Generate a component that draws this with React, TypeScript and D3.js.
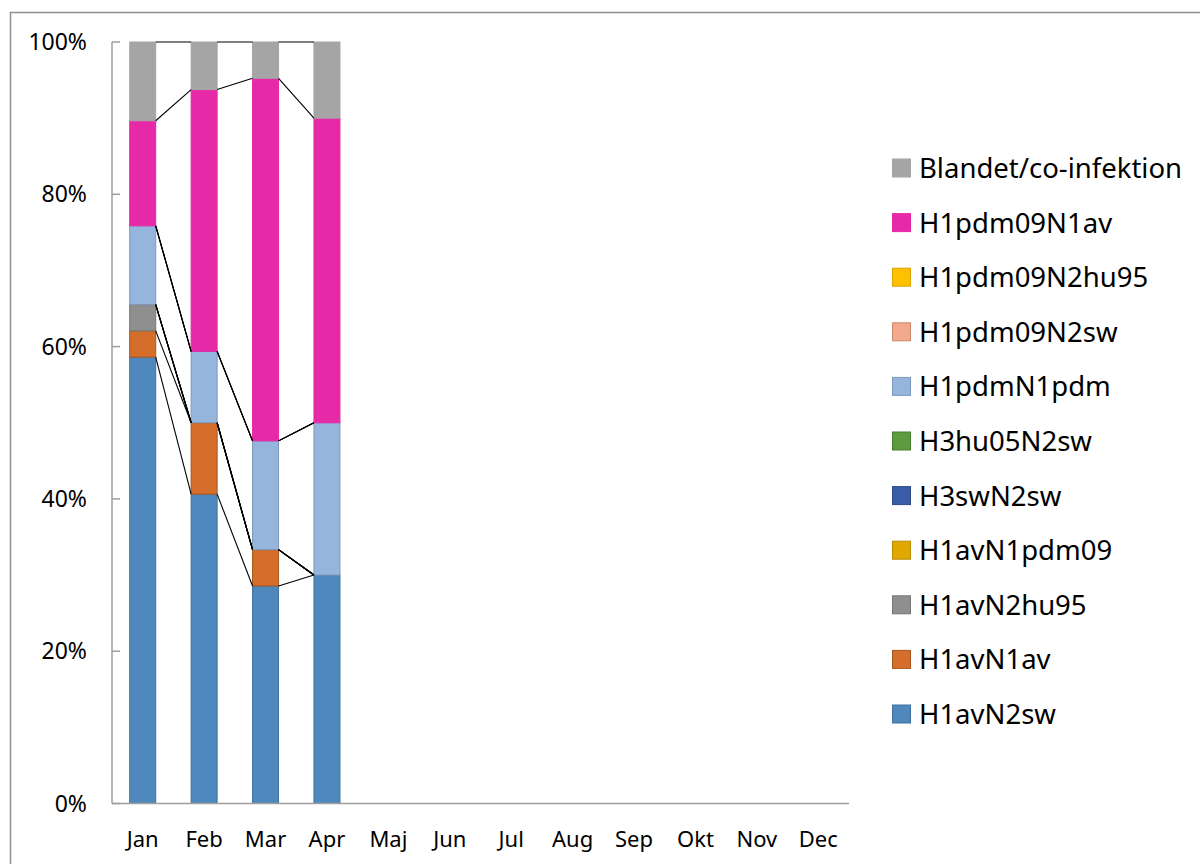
// 100% stacked column chart of influenza subtypes per month, with series lines
import { useEffect, useRef } from 'react';
import * as d3 from 'd3';

// Months on the x-axis
const months = ['Jan', 'Feb', 'Mar', 'Apr', 'Maj', 'Jun', 'Jul', 'Aug', 'Sep', 'Okt', 'Nov', 'Dec'];
// Months that have data
const dataMonths = ['Jan', 'Feb', 'Mar', 'Apr'];

// Series, bottom of the stack first
const seriesNames = [
  'H1avN2sw', 'H1avN1av', 'H1avN2hu95', 'H1avN1pdm09', 'H3swN2sw', 'H3hu05N2sw',
  'H1pdmN1pdm', 'H1pdm09N2sw', 'H1pdm09N2hu95', 'H1pdm09N1av', 'Blandet/co-infektion',
];

// Counts per series for Jan..Apr
const H1avN2sw = [17, 13, 6, 3];
const H1avN1av = [1, 3, 1, 0];
const H1avN2hu95 = [1, 0, 0, 0];
const H1avN1pdm09 = [0, 0, 0, 0];
const H3swN2sw = [0, 0, 0, 0];
const H3hu05N2sw = [0, 0, 0, 0];
const H1pdmN1pdm = [3, 3, 3, 2];
const H1pdm09N2sw = [0, 0, 0, 0];
const H1pdm09N2hu95 = [0, 0, 0, 0];
const H1pdm09N1av = [4, 11, 10, 4];
const Blandet = [3, 2, 1, 1];

const seriesValues = [
  H1avN2sw, H1avN1av, H1avN2hu95, H1avN1pdm09, H3swN2sw, H3hu05N2sw,
  H1pdmN1pdm, H1pdm09N2sw, H1pdm09N2hu95, H1pdm09N1av, Blandet,
];

const fills = ['#4F88BD', '#D46E2A', '#8F8F8F', '#E0A800', '#3A5DA8', '#5E9B3E',
  '#95B5DD', '#F2A98C', '#FFC000', '#E629A7', '#A5A5A5'];
const strokes = ['#41709C', '#A8561F', '#767676', '#B88A00', '#2E4A86', '#4A7C30',
  '#7D98BA', '#C98870', '#D9A300', '#E629A7', '#A5A5A5'];

const yTicks = [0, 0.2, 0.4, 0.6, 0.8, 1];

const App = () => {
  const svgRef = useRef<SVGSVGElement | null>(null);

  useEffect(() => {
    const width = 1200;
    const height = 864;
    const left = 112;
    const right = 849;
    const top = 42;
    const bottom = 803.5;
    const font = "'Noto Sans', sans-serif";

    const svg = d3.select(svgRef.current);
    svg.selectAll('*').remove();

    // Rows for the stack
    const rows = dataMonths.map((m, i) => {
      const r: Record<string, number | string> = { month: m };
      seriesNames.forEach((s, j) => { r[s] = seriesValues[j][i]; });
      return r;
    });
    const stacked = d3.stack<any>().keys(seriesNames).offset(d3.stackOffsetExpand)(rows);

    const pi = 1 - 26 / 61.4;
    const x = d3.scaleBand().domain(months).range([left, right])
      .paddingInner(pi).paddingOuter(pi / 2);
    const y = d3.scaleLinear().domain([0, 1]).range([bottom, top]);

    // Outer frame
    svg.append('rect')
      .attr('x', 10.5).attr('y', 12.5).attr('width', 1300).attr('height', 1000)
      .attr('fill', 'none').attr('stroke', '#8E8E8E').attr('stroke-width', 1.5);

    // Bars
    stacked.forEach((layer, j) => {
      svg.append('g').selectAll('rect')
        .data(layer)
        .join('rect')
        .attr('x', d => x(d.data.month as string)!)
        .attr('y', d => y(d[1]))
        .attr('width', x.bandwidth())
        .attr('height', d => Math.max(0, y(d[0]) - y(d[1])))
        .attr('fill', fills[j])
        .attr('stroke', strokes[j])
        .attr('stroke-width', 1)
        .attr('opacity', d => (d[1] - d[0] > 0 ? 1 : 0));
    });

    // Series lines connecting segment tops between neighbouring bars
    const lines = svg.append('g');
    stacked.forEach(layer => {
      for (let i = 0; i < layer.length - 1; i++) {
        const a = layer[i];
        const b = layer[i + 1];
        lines.append('line')
          .attr('x1', x(a.data.month as string)! + x.bandwidth())
          .attr('y1', y(a[1]))
          .attr('x2', x(b.data.month as string)!)
          .attr('y2', y(b[1]))
          .attr('stroke', '#000')
          .attr('stroke-width', 1.1);
      }
    });

    // Axes
    svg.append('line')
      .attr('x1', left).attr('x2', left).attr('y1', top).attr('y2', bottom)
      .attr('stroke', '#9E9E9E').attr('stroke-width', 1.5);
    svg.append('line')
      .attr('x1', left).attr('x2', right).attr('y1', bottom).attr('y2', bottom)
      .attr('stroke', '#9E9E9E').attr('stroke-width', 1.5);

    const yAxis = svg.append('g');
    yAxis.selectAll('line')
      .data(yTicks)
      .join('line')
      .attr('x1', left).attr('x2', left + 8)
      .attr('y1', d => y(d)).attr('y2', d => y(d))
      .attr('stroke', '#9E9E9E').attr('stroke-width', 1.5);
    yAxis.selectAll('text')
      .data(yTicks)
      .join('text')
      .attr('x', 87)
      .attr('y', d => y(d) + 8)
      .attr('text-anchor', 'end')
      .attr('font-family', font)
      .attr('font-size', 23)
      .attr('fill', '#000')
      .text(d => `${Math.round(d * 100)}%`);

    svg.append('g').selectAll('text')
      .data(months)
      .join('text')
      .attr('x', d => x(d)! + x.bandwidth() / 2)
      .attr('y', 847)
      .attr('text-anchor', 'middle')
      .attr('font-family', font)
      .attr('font-size', 22)
      .attr('fill', '#000')
      .text(d => d);

    // Legend, top series first
    const legendOrder = seriesNames.map((s, j) => j).reverse();
    const legend = svg.append('g');
    legendOrder.forEach((j, k) => {
      const cy = 168 + k * 54.6;
      legend.append('rect')
        .attr('x', 892.5).attr('y', cy - 9).attr('width', 18).attr('height', 18)
        .attr('fill', fills[j]).attr('stroke', strokes[j]).attr('stroke-width', 1);
      legend.append('text')
        .attr('x', 919).attr('y', cy + 10)
        .attr('font-family', font)
        .attr('font-size', 27.5)
        .attr('fill', '#000')
        .text(seriesNames[j]);
    });

    svg.attr('width', width).attr('height', height);
  }, []);

  return (
    <svg ref={svgRef} style={{ position: 'absolute', left: 0, top: 0, background: '#fff' }}></svg>
  );
};

export default App;
